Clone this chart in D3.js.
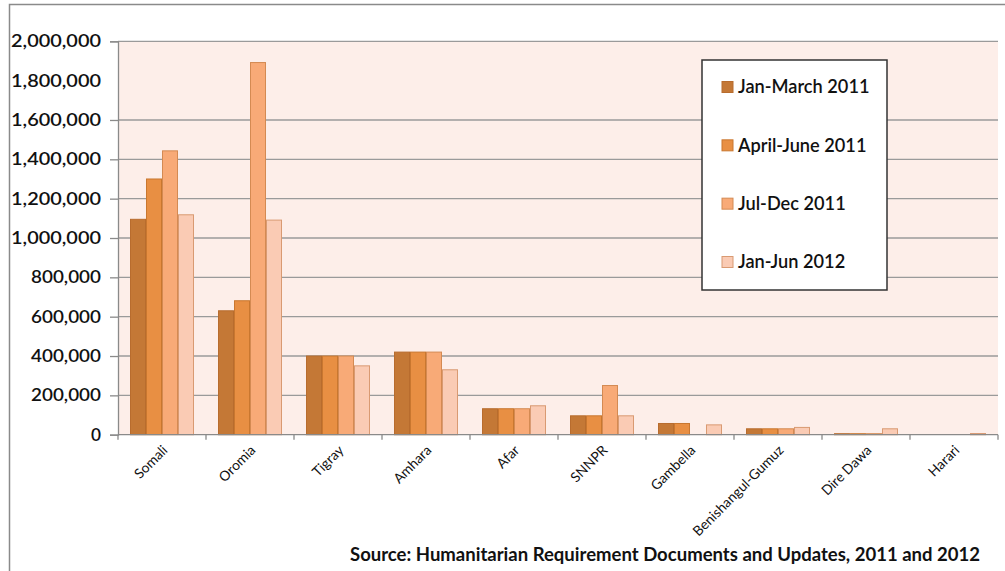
<!DOCTYPE html>
<html>
<head>
<meta charset="utf-8">
<script src="https://cdn.jsdelivr.net/npm/d3@7/dist/d3.min.js"></script>
<style>
  html, body { margin: 0; padding: 0; background: #fff; }
  svg { display: block; }
  text { font-family: "Lato", "Open Sans", sans-serif; fill: #111; }
</style>
</head>
<body>
<svg id="chart" width="1005" height="571"></svg>
<script>
// Regions of Ethiopia and people needing relief food, by period
const regions = ["Somali", "Oromia", "Tigray", "Amhara", "Afar", "SNNPR",
                 "Gambella", "Benishangul-Gumuz", "Dire Dawa", "Harari"];
const periods = ["Jan-March 2011", "April-June 2011", "Jul-Dec 2011", "Jan-Jun 2012"];

const janMar2011 = [1095000, 630000, 400000, 420000, 132000, 96000, 57000, 30000, 5000, 0];
const aprJun2011 = [1300000, 681000, 400000, 420000, 132000, 96000, 57000, 30000, 5000, 0];
const julDec2011 = [1443000, 1892000, 400000, 420000, 132000, 250000, 0, 30000, 5000, 0];
const janJun2012 = [1118000, 1091000, 350000, 330000, 147000, 96000, 50000, 37000, 30000, 6000];

const yTicks = [0, 200000, 400000, 600000, 800000, 1000000, 1200000,
                1400000, 1600000, 1800000, 2000000];
const sourceNote = "Source: Humanitarian Requirement Documents and Updates, 2011 and 2012";

const seriesValues = [janMar2011, aprJun2011, julDec2011, janJun2012];
const fills = ["#C47836", "#E88F43", "#F8AA77", "#FACBB4"];
const strokes = ["#B86C2E", "#C9772F", "#D48A52", "#D99A72"];

const svg = d3.select("#chart");
const plot = { left: 118, right: 998, top: 41.3, bottom: 434.7 };

// outer frame of the chart object
svg.append("path")
  .attr("d", "M9.5,571 L9.5,4.5 L1005,4.5")
  .attr("fill", "none").attr("stroke", "#8a8a8a").attr("stroke-width", 1.5);

// plot area
svg.append("rect")
  .attr("x", plot.left).attr("y", plot.top)
  .attr("width", plot.right - plot.left).attr("height", plot.bottom - plot.top)
  .attr("fill", "#FDEEE9");

const y = d3.scaleLinear().domain([0, 2000000]).range([plot.bottom, plot.top]);
const x = d3.scaleBand().domain(regions).range([plot.left, plot.right]).padding(0);
const bw = x.bandwidth();
const xs = d3.scaleBand().domain(d3.range(periods.length))
  .range([bw * 0.75 / 5.5, bw - bw * 0.75 / 5.5]).padding(0);

// horizontal gridlines (no line at 1,800,000)
const gridTicks = yTicks.filter(v => v !== 0 && v !== 1800000);
svg.append("g").selectAll("line").data(gridTicks).join("line")
  .attr("x1", plot.left).attr("x2", plot.right)
  .attr("y1", d => y(d)).attr("y2", d => y(d))
  .attr("stroke", "#9a9a9a").attr("stroke-width", 1.3);

// bars
const g = svg.append("g");
seriesValues.forEach((vals, s) => {
  g.append("g").selectAll("rect").data(regions.map((r, i) => ({ r, v: vals[i] })))
    .join("rect")
    .filter(d => d.v > 0)
    .attr("x", d => x(d.r) + xs(s) + 0.5)
    .attr("y", d => y(d.v))
    .attr("width", xs.bandwidth() - 1)
    .attr("height", d => y(0) - y(d.v))
    .attr("fill", fills[s])
    .attr("stroke", strokes[s]).attr("stroke-width", 1);
});

// y axis
const yAxis = d3.axisLeft(y).tickValues(yTicks)
  .tickFormat(d3.format(",")).tickSize(8).tickPadding(9);
const ya = svg.append("g").attr("transform", `translate(${plot.left},0)`).call(yAxis);
ya.select(".domain").attr("stroke", "#8a8a8a").attr("stroke-width", 1.3);
ya.selectAll(".tick line").attr("stroke", "#8a8a8a").attr("stroke-width", 1.3)
  .attr("display", d => d === 1800000 ? "none" : null);
ya.selectAll(".tick text")
  .attr("font-size", 17).attr("font-weight", 600)
  .attr("font-family", "Lato, sans-serif").attr("fill", "#111")
  .attr("textLength", function () { return this.textContent.length * 10; })
  .attr("lengthAdjust", "spacingAndGlyphs");

// x axis: tick marks on category boundaries
svg.append("line")
  .attr("x1", plot.left).attr("x2", plot.right)
  .attr("y1", plot.bottom).attr("y2", plot.bottom)
  .attr("stroke", "#8a8a8a").attr("stroke-width", 1.3);
const bounds = regions.map(r => x(r)).concat([plot.right]);
svg.append("g").selectAll("line").data(bounds).join("line")
  .attr("x1", d => d).attr("x2", d => d)
  .attr("y1", plot.bottom).attr("y2", plot.bottom + 5)
  .attr("stroke", "#8a8a8a").attr("stroke-width", 1.3);

// rotated category labels
svg.append("g").selectAll("text").data(regions).join("text")
  .attr("transform", d => `translate(${x(d) + bw / 2 + 3},${plot.bottom + 13}) rotate(-45)`)
  .attr("text-anchor", "end")
  .attr("dy", "0.35em")
  .attr("font-size", 13.8)
  .text(d => d);

// legend
const lg = svg.append("g");
lg.append("rect").attr("x", 702).attr("y", 60).attr("width", 185).attr("height", 230)
  .attr("fill", "#fff").attr("stroke", "#333").attr("stroke-width", 1.5);
const ly = d3.scalePoint().domain(periods).range([87, 262]);
periods.forEach((p, i) => {
  lg.append("rect").attr("x", 722).attr("y", ly(p) - 5.5).attr("width", 11).attr("height", 11)
    .attr("fill", fills[i]).attr("stroke", strokes[i]).attr("stroke-width", 1);
  lg.append("text").attr("x", 738).attr("y", ly(p)).attr("dy", "0.35em")
    .attr("font-size", 18.2).attr("font-weight", 600).text(p);
});

// source note
svg.append("text").attr("x", 980).attr("y", 561).attr("text-anchor", "end")
  .attr("font-size", 18).attr("font-weight", 700)
  .attr("textLength", 630).attr("lengthAdjust", "spacingAndGlyphs")
  .text(sourceNote);
</script>
</body>
</html>
